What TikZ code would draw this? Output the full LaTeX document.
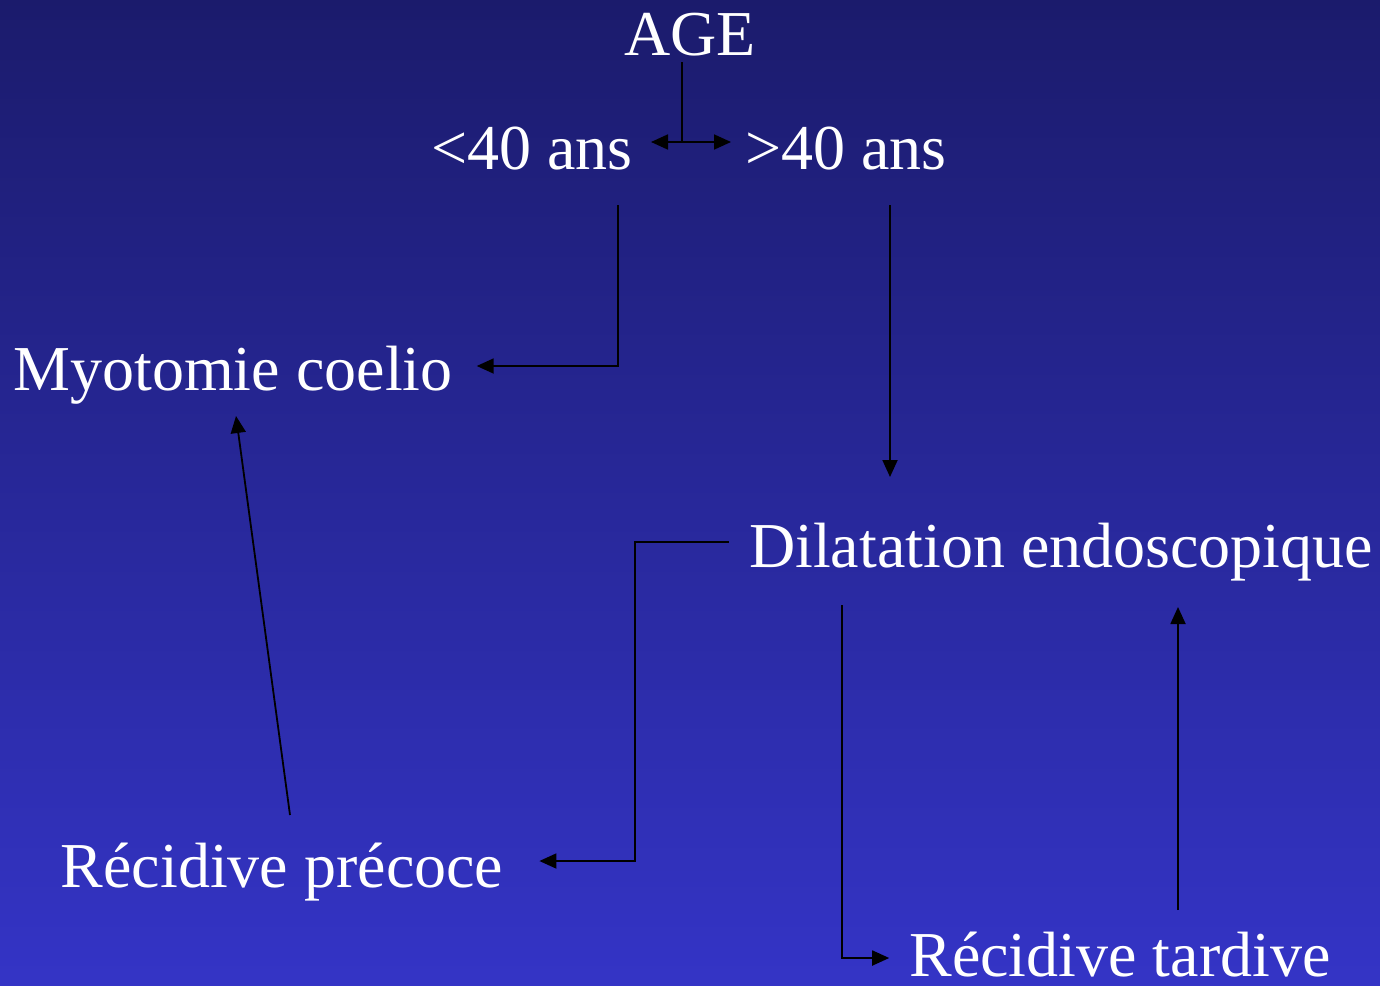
\documentclass[tikz,border=0pt]{standalone}
\usepackage{fontspec}
\setmainfont{Liberation Serif}
\usetikzlibrary{arrows.meta}
\definecolor{bgtop}{RGB}{27,27,108}
\definecolor{bgbot}{RGB}{52,52,198}
\begin{document}
\begin{tikzpicture}[>={Triangle[length=17pt,width=15pt]},x=1pt,y=-1pt,
	lbl/.style={text=white,font=\fontsize{64}{72}\selectfont,inner sep=0pt,anchor=base},
	arr/.style={black,line width=1.8pt}]
		\useasboundingbox (0,0) rectangle (1380,985);
		\shade[top color=bgtop,bottom color=bgbot] (0,0) rectangle (1380,985);
		\node[lbl] (age) at (690,55) {AGE};
		\node[lbl] (moins) at (532,169) {<40 ans};
		\node[lbl] (plus) at (846,169) {>40 ans};
		\node[lbl] (myo) at (233,390) {Myotomie coelio};
		\node[lbl] (dil) at (1061,567) {Dilatation endoscopique};
		\node[lbl] (prec) at (282,887) {Récidive précoce};
		\node[lbl] (tard) at (1120,976) {Récidive tardive};
		\coordinate (ageb) at (682,62);
		\coordinate (fork) at (682,142);
		\coordinate (forkl) at (651,142);
		\coordinate (forkr) at (731,142);
		\draw[arr] (ageb) -- (fork);
		\draw[arr,<->] (forkl) -- (forkr);
		\draw[arr,->] (618,205) |- ([xshift=24pt]myo.east |- 0,366);
		\draw[arr,->] (890,205) -- (890,477);
		\draw[arr,->] ([xshift=-20pt]dil.west |- 0,542) -| (635,861) -- ([xshift=36pt]prec.east |- 0,861);
		\draw[arr,->] (842,605) |- ([xshift=-20pt]tard.west |- 0,958);
		\draw[arr,->] (1178,910) -- (1178,607);
		\draw[arr,->] (290,815) -- (236,416);
\end{tikzpicture}
\end{document}
